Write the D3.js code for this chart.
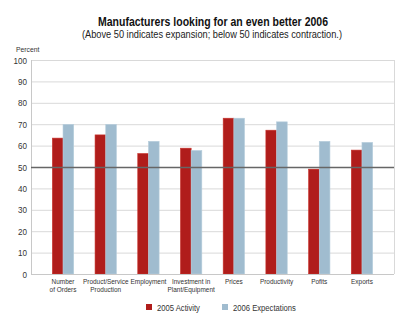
<!DOCTYPE html>
<html>
<head>
<meta charset="utf-8">
<script src="https://cdn.jsdelivr.net/npm/d3@7"></script>
<style>
    body { margin: 0; background: #fff; }
    text { font-family: "Liberation Sans", Arial, sans-serif; }
</style>
</head>
<body>
<script>
// survey categories (two-line labels)
var categories = [
    ["Number", "of Orders"],
    ["Product/Service", "Production"],
    ["Employment"],
    ["Investment in", "Plant/Equipment"],
    ["Prices"],
    ["Productivity"],
    ["Pofits"],
    ["Exports"]
];
var activity2005 = [63.5, 65, 56.3, 58.8, 72.8, 67.2, 49, 57.9];
var expect2006 = [69.9, 69.9, 62, 57.7, 72.8, 71.1, 62, 61.5];
var seriesNames = ["2005 Activity", "2006 Expectations"];
var yTicks = [0, 10, 20, 30, 40, 50, 60, 70, 80, 90, 100];

window.onload = drawChart();

// squeeze text horizontally to mimic a condensed face
function condense(sel, factor) {
    sel.each(function() {
        var w = this.getComputedTextLength();
        d3.select(this)
            .attr("textLength", w * factor)
            .attr("lengthAdjust", "spacingAndGlyphs");
    });
}

function drawChart() {
    var width = 415,
        height = 330;
    var left = 31, right = 394, top = 60, bottom = 274;
    var colors = ["#b01d1b", "#a0bccf"];

    var svg = d3.select("body")
        .append("svg")
        .attr("width", width)
        .attr("height", height);

    // titles
    svg.append("text")
        .attr("x", 213)
        .attr("y", 26)
        .attr("text-anchor", "middle")
        .style("font-size", "13px")
        .style("font-weight", "bold")
        .attr("fill", "#111")
        .attr("textLength", 230)
        .attr("lengthAdjust", "spacingAndGlyphs")
        .text("Manufacturers looking for an even better 2006");
    svg.append("text")
        .attr("x", 212)
        .attr("y", 38)
        .attr("text-anchor", "middle")
        .style("font-size", "11px")
        .attr("fill", "#222")
        .attr("textLength", 260)
        .attr("lengthAdjust", "spacingAndGlyphs")
        .text("(Above 50 indicates expansion; below 50 indicates contraction.)");

    svg.append("text")
        .attr("x", 16)
        .attr("y", 52)
        .style("font-size", "7.5px")
        .attr("fill", "#333")
        .text("Percent")
        .call(condense, 0.9);

    var x = d3.scaleBand()
        .domain(d3.range(categories.length))
        .range([left, right])
        .paddingInner(0.5)
        .paddingOuter(0.5);

    var xs = d3.scaleBand()
        .domain([0, 1])
        .range([0, x.bandwidth()]);

    var y = d3.scaleLinear()
        .domain([0, 100])
        .range([bottom, top]);

    // gridlines
    svg.append("g")
        .selectAll("line")
        .data(yTicks)
        .enter()
        .append("line")
        .attr("x1", left)
        .attr("x2", right)
        .attr("y1", function(d) { return y(d) + 0.5; })
        .attr("y2", function(d) { return y(d) + 0.5; })
        .attr("stroke", "#d9d9d9")
        .attr("stroke-width", 1);

    // plot frame
    svg.append("line")
        .attr("x1", left + 0.5).attr("x2", left + 0.5)
        .attr("y1", top).attr("y2", bottom)
        .attr("stroke", "#c8c8c8");
    svg.append("line")
        .attr("x1", right + 0.5).attr("x2", right + 0.5)
        .attr("y1", top).attr("y2", bottom)
        .attr("stroke", "#d9d9d9");

    // y tick labels
    var yAxis = d3.axisLeft(y)
        .tickValues(yTicks)
        .tickSize(0)
        .tickPadding(4);
    var yg = svg.append("g")
        .attr("transform", "translate(" + left + ",0)")
        .call(yAxis);
    yg.select(".domain").remove();
    yg.selectAll("text")
        .style("font-size", "9.5px")
        .style("font-family", null)
        .attr("fill", "#333")
        .call(condense, 0.85);

    // bars
    var series = [activity2005, expect2006];
    series.forEach(function(values, s) {
        svg.append("g")
            .selectAll("rect")
            .data(values)
            .enter()
            .append("rect")
            .attr("x", function(d, i) { return x(i) + xs(s); })
            .attr("y", function(d) { return y(d); })
            .attr("width", xs.bandwidth())
            .attr("height", function(d) { return y(0) - y(d); })
            .attr("fill", colors[s])
            .attr("stroke", s === 0 ? "#c8332c" : "#b7cedc")
            .attr("stroke-width", 0.6);
    });

    // line at 50
    svg.append("line")
        .attr("x1", left)
        .attr("x2", right)
        .attr("y1", y(50) + 0.5)
        .attr("y2", y(50) + 0.5)
        .attr("stroke", "#666")
        .attr("stroke-width", 1.5);

    // base line
    svg.append("line")
        .attr("x1", left)
        .attr("x2", right)
        .attr("y1", bottom + 0.5)
        .attr("y2", bottom + 0.5)
        .attr("stroke", "#c8c8c8");

    // category labels, one text per line
    var catG = svg.append("g");
    categories.forEach(function(lines, i) {
        lines.forEach(function(line, k) {
            catG.append("text")
                .attr("x", x(i) + x.bandwidth() / 2)
                .attr("y", 284 + k * 8)
                .attr("text-anchor", "middle")
                .style("font-size", "7px")
                .attr("fill", "#333")
                .text(line)
                .call(condense, 0.92);
        });
    });

    // legend
    var legendX = [146, 222];
    var legend = svg.append("g")
        .selectAll("g")
        .data(seriesNames)
        .enter()
        .append("g")
        .attr("transform", function(d, i) { return "translate(" + legendX[i] + ",304)"; });
    legend.append("rect")
        .attr("width", 6)
        .attr("height", 6)
        .attr("fill", function(d, i) { return colors[i]; });
    legend.append("text")
        .attr("x", 11)
        .attr("y", 6.5)
        .style("font-size", "8.5px")
        .attr("fill", "#333")
        .text(function(d) { return d; })
        .call(condense, 0.9);
}
</script>
</body>
</html>
